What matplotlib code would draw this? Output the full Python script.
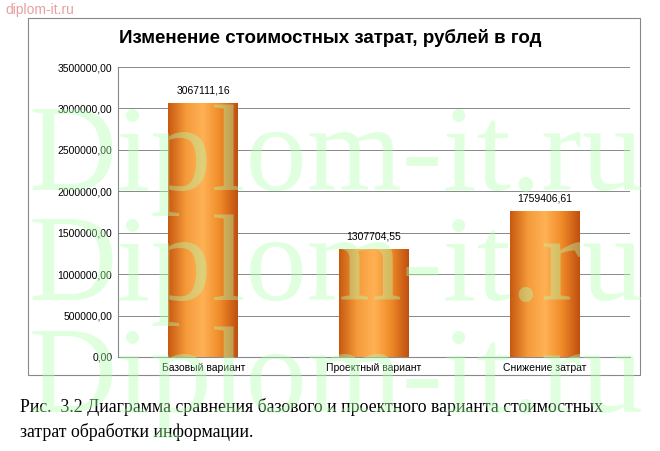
import numpy as np
import matplotlib.pyplot as plt
from matplotlib.colors import LinearSegmentedColormap

categories = ['Базовый вариант', 'Проектный вариант', 'Снижение затрат']
values = [3067111.16, 1307704.55, 1759406.61]
labels = ['3067111,16', '1307704,55', '1759406,61']
yticks = [0, 500000, 1000000, 1500000, 2000000, 2500000, 3000000, 3500000]

fig = plt.figure(figsize=(6.6, 4.51), dpi=100)
# рамка диаграммы
fig.patches.append(plt.Rectangle((28/660, 1-375/451), 612/660, 357/451, transform=fig.transFigure,
                                 fill=False, ec='#888888', lw=0.8))
ax = fig.add_axes([118/660, 1-357/451, 512/660, 290/451])

x = np.arange(len(categories))
bars = ax.bar(x, values, width=0.41, color='#f08020', zorder=2)
cmap = LinearSegmentedColormap.from_list('o', ['#c85a10', '#f59a3a', '#ffb255', '#f08a28', '#c05010'])
grad = np.linspace(0, 1, 64).reshape(1, -1)
for b in bars:
    x0, w, h = b.get_x(), b.get_width(), b.get_height()
    im = ax.imshow(grad, extent=(x0, x0 + w, 0, h), aspect='auto', cmap=cmap, zorder=3)
    im.set_clip_path(b)
for xi, v, t in zip(x, values, labels):
    ax.text(xi, v + 90000, t, ha='center', va='bottom', fontsize=7.5, family='Liberation Sans')

ax.set_xlim(-0.5, 2.5)
ax.set_ylim(0, 3500000)
ax.set_yticks(yticks)
ax.set_yticklabels([f'{v:.2f}'.replace('.', ',') for v in yticks], fontsize=7.5, family='Liberation Sans')
ax.set_xticks(x)
ax.set_xticklabels(categories, fontsize=7.5, family='Liberation Sans')
ax.grid(axis='y', color='#888888', lw=0.7, zorder=0)
for s in ['top', 'right']:
    ax.spines[s].set_visible(False)
ax.spines['left'].set_color('#888888')
ax.spines['bottom'].set_color('#888888')
ax.tick_params(length=0, pad=4)

fig.text(0.5, 1-38/451, 'Изменение стоимостных затрат, рублей в год', ha='center', va='center',
         fontsize=13.5, fontweight='bold', family='Liberation Sans')

# водяные знаки
for yb in [190, 300, 412]:
    fig.text(28/660, 1-yb/451, 'Diplom-it.ru', fontsize=88, family='Liberation Serif',
             color='#b0ffb0', alpha=0.4, va='baseline', ha='left', zorder=10)
fig.text(5/660, 1-10/451, 'diplom-it.ru', fontsize=10, color='#e8a0a0', va='center', family='Liberation Sans')

fig.text(20/660, 1-407/451, 'Рис.  3.2 Диаграмма сравнения базового и проектного варианта стоимостных',
         fontsize=12.8, family='Liberation Serif', va='center')
fig.text(20/660, 1-432/451, 'затрат обработки информации.', fontsize=12.8, family='Liberation Serif', va='center')

fig.savefig('out.png', dpi=100)
